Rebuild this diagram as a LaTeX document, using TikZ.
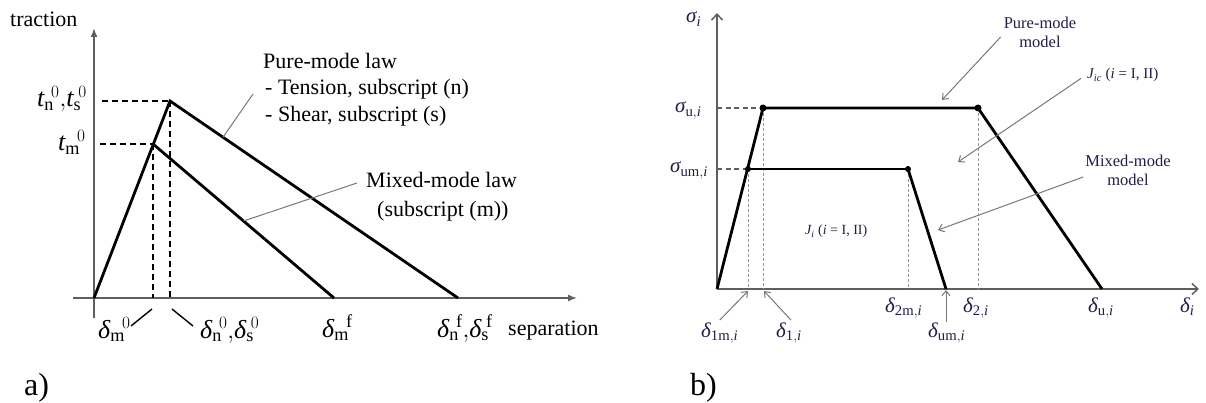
\documentclass[tikz,border=0pt]{standalone}
\usepackage{fontspec}
\setmainfont{Liberation Serif}
\usetikzlibrary{arrows.meta,calc}
\definecolor{navy}{RGB}{30,30,72}
\definecolor{axgray}{RGB}{95,95,95}
\definecolor{leadgray}{RGB}{120,120,120}
\definecolor{dotgray}{RGB}{150,150,150}
\tikzset{
 axisL/.style={axgray,line width=1.6pt,-{Latex[length=9pt,width=7pt]}},
 heavy/.style={black,line width=2.8pt},
 guideL/.style={black,line width=1.6pt,dash pattern=on 6pt off 4pt},
 leaderL/.style={leadgray,line width=1pt},
 slashL/.style={black,line width=1.4pt},
 txtL/.style={inner sep=0pt,font=\fontsize{22}{26}\selectfont},
 mathL/.style={inner sep=0pt,font=\fontsize{26}{30}\selectfont},
 axisR/.style={axgray,line width=1.8pt,-{Straight Barb[length=6pt,width=11pt,line width=1.5pt]}},
 heavyR/.style={black,line width=2.8pt},
 midR/.style={black,line width=2pt},
 guideR/.style={axgray,line width=1.4pt,dash pattern=on 5pt off 3.5pt},
 dotR/.style={dotgray,line width=1pt,dash pattern=on 3pt off 2pt},
 leaderR/.style={leadgray,line width=1pt,-{Straight Barb[length=5pt,width=8pt]}},
 txtR/.style={inner sep=0pt,text=navy,align=center,font=\fontsize{16.5}{19}\selectfont},
 mathR/.style={inner sep=0pt,text=navy,font=\fontsize{21}{24}\selectfont},
 knot/.style={circle,fill=black,inner sep=0pt,minimum size=7pt},
 tag/.style={inner sep=0pt,font=\fontsize{32}{36}\selectfont},
}
\begin{document}
\begin{tikzpicture}[x=1pt,y=-1pt]
\useasboundingbox (0,0) rectangle (1206,403);
% ---------------- panel a ----------------
\coordinate (O1) at (94,298);
\coordinate (P1) at (170,101);
\coordinate (M1) at (153,144);
\coordinate (PF) at (458,298);
\coordinate (MF) at (334,298);
\coordinate (yAb) at (94,318);
\coordinate (yAt) at (94,28);
\coordinate (xAl) at (73,298);
\coordinate (xAr) at (577,298);
\coordinate (P1y) at (102,101);
\coordinate (M1y) at (100,144);
\coordinate (P1x) at (170,298);
\coordinate (M1x) at (153,298);
\draw[axisL] (yAb) -- (yAt);
\draw[axisL] (xAl) -- (xAr);
\draw[guideL] (P1y) -- (P1);
\draw[guideL] (M1y) -- (M1);
\draw[guideL] (P1) -- (P1x);
\draw[guideL] (M1) -- (M1x);
\draw[heavy] (O1) -- (P1) -- (PF);
\draw[heavy] (M1) -- (MF);

\node[txtL,anchor=base west] (trac) at (10,27) {traction};
\node[mathL,anchor=base west] (tns) at (37,107) {$\textit{t}_{\mathrm{n}}{}^{\!0}{,}\textit{t}_{\mathrm{s}}{}^{\!0}$};
\node[mathL,anchor=base west] (tm) at (58,151) {$\textit{t}_{\mathrm{m}}{}^{\!0}$};
\node[mathL,anchor=base west] (dm0) at (98,338) {$\textit{δ}_{\mathrm{m}}{}^{\!0}$};
\node[mathL,anchor=base west] (dns0) at (200,338) {$\textit{δ}_{\mathrm{n}}{}^{\!0}{,}\textit{δ}_{\mathrm{s}}{}^{\!0}$};
\node[mathL,anchor=base west] (dmf) at (322,337) {$\textit{δ}_{\mathrm{m}}{}^{\!\mathrm{f}}$};
\node[mathL,anchor=base west] (dnsf) at (437,337) {$\textit{δ}_{\mathrm{n}}{}^{\!\mathrm{f}}{,}\textit{δ}_{\mathrm{s}}{}^{\!\mathrm{f}}$};
\node[txtL,anchor=base west] (sep) at (508,335) {separation};

\coordinate (s1a) at (131,326);
\coordinate (s1b) at (152,309);
\coordinate (s2a) at (172,309);
\coordinate (s2b) at (193,326);
\draw[slashL] (s1a) -- (s1b);
\draw[slashL] (s2a) -- (s2b);

\node[txtL,anchor=base west] (pl1) at (263,69) {Pure-mode law};
\node[txtL,anchor=base west] (pl2) at (265,95) {- Tension, subscript (n)};
\node[txtL,anchor=base west] (pl3) at (265,122) {- Shear, subscript (s)};
\coordinate (pLs) at (253,94);
\coordinate (pLe) at ($(P1)!0.184!(PF)$);
\draw[leaderL] (pLs) -- (pLe);

\node[txtL,anchor=base west] (ml1) at (366,188) {Mixed-mode law};
\node[txtL,anchor=base west] (ml2) at (377,217) {(subscript (m))};
\coordinate (mLs) at (357,183);
\coordinate (mLe) at ($(M1)!0.5!(MF)$);
\draw[leaderL] (mLs) -- (mLe);

\node[tag,anchor=base west] (la) at (24,395) {a)};

% ---------------- panel b ----------------
\coordinate (O2) at (717,289);
\coordinate (yBt) at (717,13);
\coordinate (xBr) at (1199,289);
\coordinate (U1) at (763,108);
\coordinate (U2) at (978,108);
\coordinate (UF) at (1102,289);
\coordinate (M2a) at (748,169);
\coordinate (M2b) at (908,169);
\coordinate (M2f) at (946,289);
\coordinate (U1y) at (717,108);
\coordinate (M2y) at (717,169);
\coordinate (U1x) at (763,289);
\coordinate (U2x) at (978,289);
\coordinate (M2ax) at (748,289);
\coordinate (M2bx) at (908,289);

\draw[axisR] (O2) -- (yBt);
\draw[axisR] (O2) -- (xBr);
\draw[guideR] (U1y) -- (U1);
\draw[guideR] (M2y) -- (M2a);
\draw[dotR] (M2a) -- (M2ax);
\draw[dotR] (U1) -- (U1x);
\draw[dotR] (M2b) -- (M2bx);
\draw[dotR] (U2) -- (U2x);
\draw[heavyR] (O2) -- (U1) -- (U2) -- (UF);
\draw[midR] (M2a) -- (M2b);
\draw[heavyR] (M2b) -- (M2f);
\node[knot] (kU1) at (U1) {};
\node[knot] (kU2) at (U2) {};
\node[knot,minimum size=6pt] (kM2a) at (M2a) {};
\node[knot,minimum size=6pt] (kM2b) at (M2b) {};

\node[mathR,anchor=base west] (si) at (686,23) {$\textit{σ}_{\mathit{i}}$};
\node[mathR,anchor=base west] (sui) at (675,113) {$\textit{σ}_{\mathrm{u},\mathit{i}}$};
\node[mathR,anchor=base west] (sumi) at (670,173) {$\textit{σ}_{\mathrm{um},\mathit{i}}$};
\node[mathR,anchor=base west] (d1m) at (701,337) {$\textit{δ}_{\mathrm{1m},\mathit{i}}$};
\node[mathR,anchor=base west] (d1) at (776,337) {$\textit{δ}_{\mathrm{1},\mathit{i}}$};
\node[mathR,anchor=base west] (d2m) at (885,312) {$\textit{δ}_{\mathrm{2m},\mathit{i}}$};
\node[mathR,anchor=base west] (dum) at (928,337) {$\textit{δ}_{\mathrm{um},\mathit{i}}$};
\node[mathR,anchor=base west] (d2) at (963,312) {$\textit{δ}_{\mathrm{2},\mathit{i}}$};
\node[mathR,anchor=base west] (dui) at (1088,312) {$\textit{δ}_{\mathrm{u},\mathit{i}}$};
\node[mathR,anchor=base west] (di) at (1180,312) {$\textit{δ}_{\mathit{i}}$};

\coordinate (d1mE) at (748,291);
\coordinate (d1E) at (764,291);
\coordinate (dumE) at (946,290);
\draw[leaderR] ($(d1m.north)+(0,-2)$) -- (d1mE);
\draw[leaderR] ($(d1.north)+(2,-2)$) -- (d1E);
\draw[leaderR] (dum.north -| dumE) -- (dumE);

\node[txtR] (pm) at (1040,32) {Pure-mode\\model};
\node[txtR] (mm) at (1128,170) {Mixed-mode\\model};
\node[inner sep=0pt,text=navy,anchor=base west,font=\fontsize{15}{18}\selectfont] (jic) at (1087,79) {$\textit{J}_{\mathit{ic}}$ (\textit{i} = I, II)};
\node[inner sep=0pt,text=navy,anchor=base west,font=\fontsize{14}{17}\selectfont] (ji) at (805,235) {$\textit{J}_{\mathit{i}}$ (\textit{i} = I, II)};

\coordinate (pmE) at (942,100);
\coordinate (jicE) at (958,162);
\coordinate (mmE) at (938,230);
\draw[leaderR] ($(pm.west)+(-3,5)$) -- (pmE);
\draw[leaderR] ($(jic.west)+(-6,3)$) -- (jicE);
\draw[leaderR] ($(mm.west)+(-2,7)$) -- (mmE);

\node[tag,anchor=base west] (lb) at (690,395) {b)};
\end{tikzpicture}
\end{document}
